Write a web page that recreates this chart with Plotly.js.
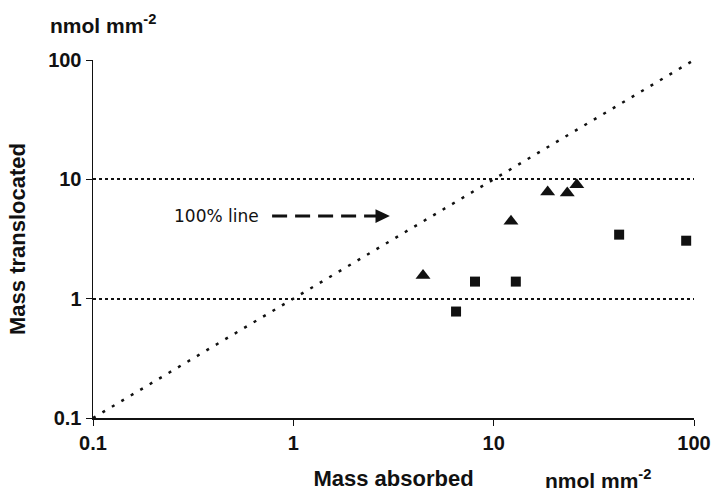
<!DOCTYPE html>
<html>
<head>
<meta charset="utf-8">
<script src="https://cdn.plot.ly/plotly-3.0.1.min.js"></script>
<style>html,body{margin:0;padding:0;background:#fff;}#chart{width:711px;height:492px;}</style>
</head>
<body>
<div id="chart"></div>
<script>
// Data (nmol mm^-2)
const triAbsorbed = [4.44, 12.2, 18.6, 23.3, 26.0];
const triTranslocated = [1.56, 4.45, 7.84, 7.69, 9.0];
const sqAbsorbed = [6.49, 8.07, 12.9, 42.3, 91.4];
const sqTranslocated = [0.78, 1.39, 1.39, 3.44, 3.06];
const lineX = [0.1, 100];
const lineY = [0.1, 100];
const tickVals = [0.1, 1, 10, 100];
const tickText = ['0.1', '1', '10', '100'];

const FONT = 'Liberation Sans, Arial, Helvetica, sans-serif';

const traces = [
  {x: lineX, y: lineY, mode: 'lines', type: 'scatter',
   line: {color: '#111', width: 2.5, dash: '3px,8px'}, hoverinfo: 'skip', showlegend: false},
  {x: triAbsorbed, y: triTranslocated, mode: 'markers', type: 'scatter',
   marker: {symbol: 'triangle-up', size: 13, color: '#111'}, showlegend: false},
  {x: sqAbsorbed, y: sqTranslocated, mode: 'markers', type: 'scatter',
   marker: {symbol: 'square', size: 10, color: '#111'}, showlegend: false}
];

const layout = {
  width: 711, height: 492,
  margin: {l: 93, r: 17, t: 60, b: 74},
  paper_bgcolor: '#fff', plot_bgcolor: '#fff',
  font: {family: FONT, color: '#111'},
  showlegend: false,
  xaxis: {
    type: 'log', range: [-1, 2],
    tickvals: tickVals, ticktext: tickText,
    tickfont: {family: FONT, size: 20, weight: 'bold', color: '#111'},
    ticks: 'outside', ticklen: 6, tickwidth: 1, tickcolor: '#111',
    showline: true, linecolor: '#111', linewidth: 1.5,
    showgrid: false, zeroline: false,
    title: {text: '<b>Mass absorbed</b>', font: {family: FONT, size: 22, color: '#111'}, standoff: 18}
  },
  yaxis: {
    type: 'log', range: [-1, 2],
    tickvals: tickVals, ticktext: tickText,
    tickfont: {family: FONT, size: 20, weight: 'bold', color: '#111'},
    ticks: 'outside', ticklen: 6, tickwidth: 1, tickcolor: '#111',
    showline: true, linecolor: '#111', linewidth: 1.5,
    showgrid: true, gridcolor: '#111', gridwidth: 2, griddash: '3px,3px',
    zeroline: false,
    title: {text: '<b>Mass translocated</b>', font: {family: FONT, size: 22, color: '#111'}, standoff: 16}
  },
  shapes: [
    {type: 'line', xref: 'paper', yref: 'paper', x0: 0.298, x1: 0.474, y0: 0.564, y1: 0.564,
     line: {color: '#111', width: 3, dash: '15px,8px'}},
    {type: 'path', xref: 'paper', yref: 'paper',
     path: 'M 0.470,0.583 L 0.494,0.564 L 0.470,0.545 Z',
     fillcolor: '#111', line: {color: '#111', width: 0}}
  ],
  annotations: [
    {xref: 'paper', yref: 'paper', x: 0.206, y: 0.564, xanchor: 'center', yanchor: 'middle',
     text: '100% line', showarrow: false,
     font: {family: 'DejaVu Sans, sans-serif', size: 17, color: '#111'}},
    {xref: 'paper', yref: 'paper', x: -0.075, y: 1.1, xanchor: 'left', yanchor: 'middle',
     text: '<b>nmol mm<sup>-2</sup></b>', showarrow: false,
     font: {family: FONT, size: 21, color: '#111'}},
    {xref: 'paper', yref: 'paper', x: 0.84, y: -0.17, xanchor: 'center', yanchor: 'middle',
     text: '<b>nmol mm<sup>-2</sup></b>', showarrow: false,
     font: {family: FONT, size: 21, color: '#111'}}
  ]
};

Plotly.newPlot('chart', traces, layout, {displayModeBar: false, staticPlot: true});
</script>
</body>
</html>
